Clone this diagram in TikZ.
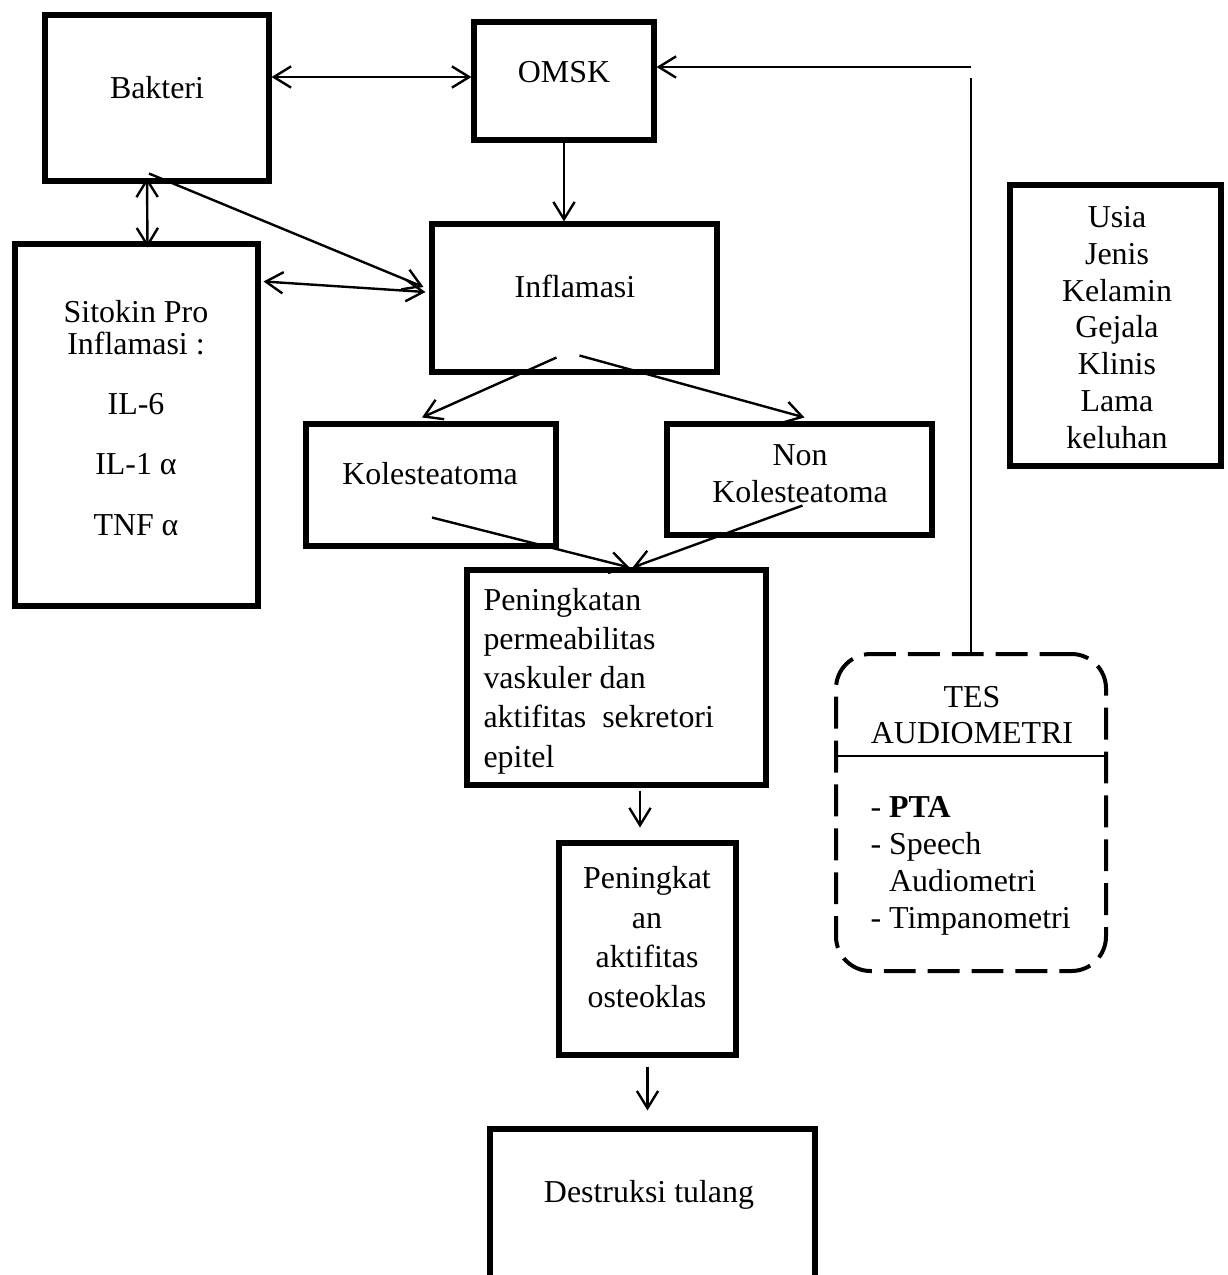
\documentclass[tikz,border=0pt]{standalone}
\usepackage{fontspec}
\setmainfont{Liberation Serif}
\usetikzlibrary{arrows.meta,calc,fit}

\begin{document}
\begin{tikzpicture}[x=0.376pt,y=-0.376pt]
	\tikzstyle{box}=[shape=rectangle,draw,line width=1.9pt,inner sep=0pt]
	\tikzstyle{dbox}=[shape=rectangle,draw,line width=1.5pt,inner sep=0pt,rounded corners=13pt,dash pattern=on 12pt off 4.5pt]
	\tikzstyle{txt}=[inner sep=0pt,align=center,anchor=base,font=\fontsize{12}{13.8}\selectfont]
	\tikzstyle{arr}=[line width=0.9pt,-{Straight Barb[length=6.5pt,width=8pt]}]
	\tikzstyle{dbl}=[line width=0.9pt,{Straight Barb[length=6.5pt,width=8pt]}-{Straight Barb[length=6.5pt,width=8pt]}]

	\useasboundingbox (0,0) rectangle (1227,1275);
	\clip (0,0) rectangle (1227,1275);
	\fill[white] (0,0) rectangle (1227,1275);

	%%%
	\node[box, fit={(45,15) (269,181)}] (bakteri) {};
	\node[box, fit={(474,22) (654,140)}] (omsk) {};
	\node[box, fit={(432,224) (717,372)}] (infl) {};
	\node[box, fit={(15,244) (258,606)}] (sitokin) {};
	\node[box, fit={(306,424) (556,546)}] (kol) {};
	\node[box, fit={(667,424) (932,535)}] (nonkol) {};
	\node[box, fit={(467,570) (766,785)}] (pen) {};
	\node[box, fit={(559,843) (736,1055)}] (pen2) {};
	\node[box, fit={(490,1129) (815,1400)}] (destr) {};
	\node[box, fit={(1010,185) (1221,466)}] (usia) {};
	\node[dbox, fit={(836,654) (1106,971)}] (tes) {};

	%%% (multi-line texts sit on their last baseline)
	\node[txt] (bakteritxt) at (157,98) {Bakteri};
	\node[txt] (omsktxt) at (564,82) {OMSK};
	\node[txt] (infltxt) at (575,297) {Inflamasi};
	\node[txt, font=\fontsize{12}{12}\selectfont] (sitokintxt) at (136,535)
		{Sitokin Pro\\Inflamasi :\\[10.6pt]IL-6\\[10.6pt]IL-1 α\\[10.6pt]TNF α};
	\node[txt] (koltxt) at (430,484) {Kolesteatoma};
	\node[txt] (nonkoltxt) at (800,502) {Non\\Kolesteatoma};
	\node[txt, align=left, anchor=base west, font=\fontsize{12}{14.7}\selectfont] (pentxt) at (483,767)
		{Peningkatan\\permeabilitas\\vaskuler dan\\aktifitas\ \ sekretori\\epitel};
	\node[txt, font=\fontsize{12}{14.8}\selectfont] (pen2txt) at (647,1007) {Peningkat\\an\\aktifitas\\osteoklas};
	\node[txt] (destrtxt) at (649,1202) {Destruksi tulang};
	\node[txt] (usiatxt) at (1117,448) {Usia\\Jenis\\Kelamin\\Gejala\\Klinis\\Lama\\keluhan};
	\node[txt, font=\fontsize{12}{13.2}\selectfont] (testxt) at (972,743) {TES\\AUDIOMETRI};
	\node[txt, align=left, anchor=base west] (tesitems) at (870,928)
		{- \textbf{PTA}\\- Speech\\\hphantom{- }Audiometri\\- Timpanometri};

	%%%
	\coordinate (bo) at ($(omsk.west)+(0,-4)$);
	\draw[dbl] (bakteri.east |- bo) -- (bo);
	\draw[arr] (omsk.south) -- (omsk.south |- infl.north);
	\draw[dbl] ($(bakteri.south)+(-10,-6)$) -- ($(sitokin.north)+(11,6)$);
	\draw[arr] ($(bakteri.south)+(-8,-10)$) -- ($(infl.west)+(-6,-11)$);
	\draw[dbl] ($(sitokin.north east)+(3,40)$) -- ($(infl.west)+(-4,-6)$);

	%%%
	\draw[arr] ($(infl.south)+(-18,-17)$) -- ($(kol.north)+(-9,-4)$);
	\draw[arr] ($(infl.south)+(5,-19)$) -- ($(nonkol.north)+(5,-4)$);
	\draw[arr] ($(kol.south)+(1,-31)$) -- ($(pen.north)+(13,0)$);
	\draw[arr] ($(nonkol.south)+(3,-32)$) -- ($(pen.north)+(16,0)$);
	\draw[arr] ($(pen.south)+(23.5,3)$) -- ($(pen2.north)+(-7.5,-13)$);
	\draw[arr] ($(pen2.south)+(0,9)$) -- ($(pen2.south |- destr.north)+(0,-16)$);

	%%%
	\coordinate (omskin) at (971,67);
	\draw[line width=0.9pt] (tes.north) -- ($(omskin)+(0,11)$);
	\draw[arr] (omskin) -- (omsk.east |- omskin);
	\draw[line width=0.75pt] ($(tes.north west)+(0,104)$) -- ($(tes.north east)+(0,104)$);
\end{tikzpicture}
\end{document}
